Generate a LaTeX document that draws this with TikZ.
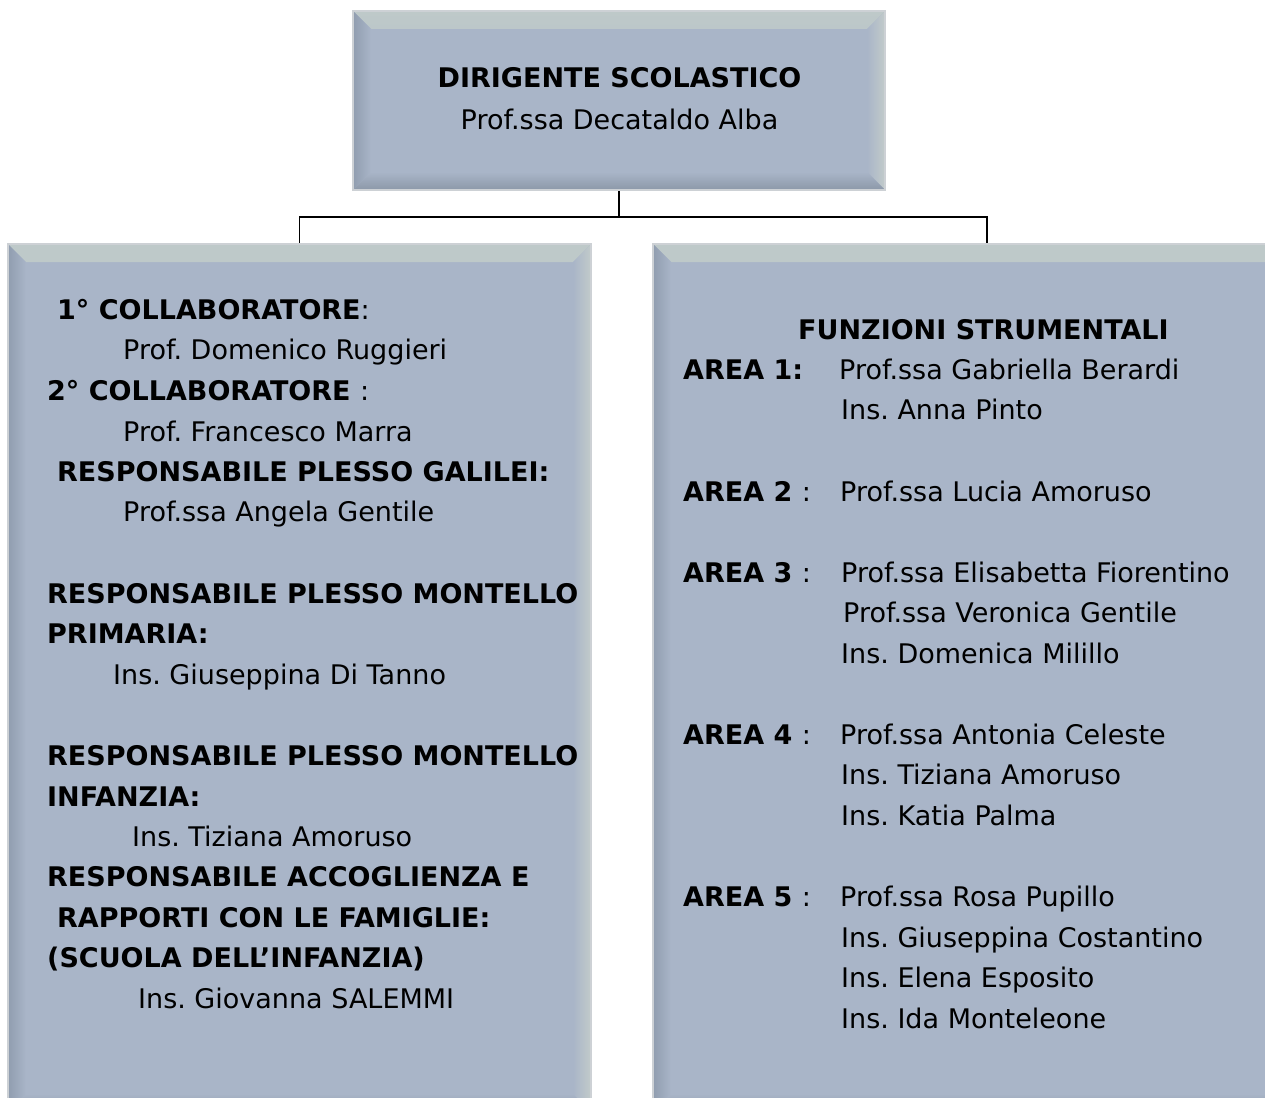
\documentclass[tikz,border=0pt]{standalone}
\usepackage{fontspec}
\setmainfont{DejaVu Sans}
\usepackage{xcolor}
\usepackage{tikz}
\frenchspacing

\definecolor{facecol}{HTML}{A9B5C8}
\definecolor{bevtop}{HTML}{BEC9C9}
\definecolor{bevleft}{HTML}{909DAF}
\definecolor{bevright}{HTML}{C2CBCA}
\definecolor{bevbot}{HTML}{8C98A8}
\definecolor{rimcol}{HTML}{CDD1D5}

\begin{document}
\begin{tikzpicture}[x=1pt, y=-1pt,
    panel/.style={rectangle, inner sep=0pt, fill=facecol, draw=rimcol, line width=2.5pt,
        path picture={
            \shade[top color=bevtop, bottom color=facecol] (path picture bounding box.north west)
                -- (path picture bounding box.north east) -- ++(-18,18)
                -- ([shift={(18,18)}]path picture bounding box.north west) -- cycle;
            \shade[left color=bevleft, right color=facecol] (path picture bounding box.north west)
                -- (path picture bounding box.south west) -- ++(18,-18)
                -- ([shift={(18,18)}]path picture bounding box.north west) -- cycle;
            \shade[left color=facecol, right color=bevright] (path picture bounding box.north east)
                -- (path picture bounding box.south east) -- ++(-18,-18)
                -- ([shift={(-18,18)}]path picture bounding box.north east) -- cycle;
            \shade[top color=facecol, bottom color=bevbot] (path picture bounding box.south west)
                -- (path picture bounding box.south east) -- ++(-18,-18)
                -- ([shift={(18,-18)}]path picture bounding box.south west) -- cycle;
        }},
    riga/.style={anchor=base west, inner sep=0pt},
    titolo/.style={anchor=base, inner sep=0pt},
    every node/.style={font=\fontsize{27}{32}\selectfont}]

    \useasboundingbox (0,0) rectangle (1265,1097);

    \node [panel, minimum width=532pt, minimum height=179pt] (dirigente) at (619,100.5) {};
    \node [panel, minimum width=583pt, minimum height=868pt] (collab) at (299.5,678) {};
    \node [panel, minimum width=668pt, minimum height=868pt] (funzioni) at (987,678) {};

    \draw[line width=1.5pt] (dirigente.south) -- ++(0,25.5) coordinate (fork);
    \draw[line width=1.5pt] (collab.north) |- (fork) -| (funzioni.north);

    \node [titolo] (ds) at (619.5,88) {\bfseries DIRIGENTE SCOLASTICO};
    \node [titolo] (dsnome) at (619.5,129) {Prof.ssa Decataldo Alba};

    \node [riga] (c1) at (57,319) {\bfseries 1° COLLABORATORE\mdseries :};
    \node [riga] (c1nome) at (123,359) {Prof. Domenico Ruggieri};
    \node [riga] (c2) at (47,400) {\bfseries 2° COLLABORATORE \mdseries :};
    \node [riga] (c2nome) at (123,441) {Prof. Francesco Marra};
    \node [riga] (gal) at (57,481) {\bfseries RESPONSABILE PLESSO GALILEI:};
    \node [riga] (galnome) at (123,521) {Prof.ssa Angela Gentile};
    \node [riga] (mpa) at (47,603) {\bfseries RESPONSABILE PLESSO MONTELLO};
    \node [riga] (mpb) at (47,643) {\bfseries PRIMARIA:};
    \node [riga] (mpnome) at (113,684) {Ins. Giuseppina Di Tanno};
    \node [riga] (mia) at (47,765) {\bfseries RESPONSABILE PLESSO MONTELLO};
    \node [riga] (mib) at (47,806) {\bfseries INFANZIA:};
    \node [riga] (minome) at (132,846) {Ins. Tiziana Amoruso};
    \node [riga] (acca) at (47,886) {\bfseries RESPONSABILE ACCOGLIENZA E};
    \node [riga] (accb) at (57,927) {\bfseries RAPPORTI CON LE FAMIGLIE:};
    \node [riga] (accc) at (47,967) {\bfseries (SCUOLA DELL’INFANZIA)};
    \node [riga] (accnome) at (138,1008) {Ins. Giovanna SALEMMI};

    \node [riga] (fs) at (798,339) {\bfseries FUNZIONI STRUMENTALI};
    \node [riga] (a1) at (683,379) {\bfseries AREA 1:};
    \node [riga] (a1n1) at (839,379) {Prof.ssa Gabriella Berardi};
    \node [riga] (a1n2) at (841,419) {Ins. Anna Pinto};
    \node [riga] (a2) at (683,501) {\bfseries AREA 2 \mdseries :};
    \node [riga] (a2n1) at (840,501) {Prof.ssa Lucia Amoruso};
    \node [riga] (a3) at (683,582) {\bfseries AREA 3 \mdseries :};
    \node [riga] (a3n1) at (841,582) {Prof.ssa Elisabetta Fiorentino};
    \node [riga] (a3n2) at (843,622) {Prof.ssa Veronica Gentile};
    \node [riga] (a3n3) at (841,663) {Ins. Domenica Milillo};
    \node [riga] (a4) at (683,744) {\bfseries AREA 4 \mdseries :};
    \node [riga] (a4n1) at (840,744) {Prof.ssa Antonia Celeste};
    \node [riga] (a4n2) at (841,784) {Ins. Tiziana Amoruso};
    \node [riga] (a4n3) at (841,825) {Ins. Katia Palma};
    \node [riga] (a5) at (683,906) {\bfseries AREA 5 \mdseries :};
    \node [riga] (a5n1) at (840,906) {Prof.ssa Rosa Pupillo};
    \node [riga] (a5n2) at (841,947) {Ins. Giuseppina Costantino};
    \node [riga] (a5n3) at (841,987) {Ins. Elena Esposito};
    \node [riga] (a5n4) at (841,1028) {Ins. Ida Monteleone};

\end{tikzpicture}
\end{document}
